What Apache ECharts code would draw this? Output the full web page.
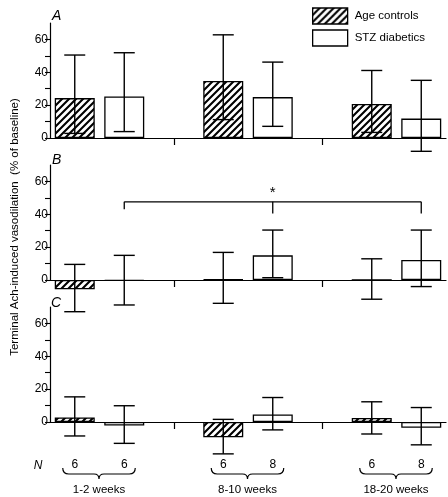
<!DOCTYPE html>
<html><head><meta charset="utf-8">
<script src="https://cdn.jsdelivr.net/npm/echarts@6/dist/echarts.min.js"></script>
<style>html,body{margin:0;padding:0;background:#fff}#c{width:448px;height:497px}</style>
</head><body><div id="c"></div>
<script>
// ---- data ----
const slots = ['c1','d1','g1','c2','d2','g2','c3','d3'];
const groupLabels = ['1-2 weeks','8-10 weeks','18-20 weeks'];
const nValues = ['6','6','','6','8','','6','8'];
const panelLetters = ['A','B','C'];
const ctrlMeanA = [24.3, 34.7, 20.7];
const ctrlLowA  = [2.8, 11.2, 3.4];
const ctrlHighA = [50.5, 62.8, 41.1];
const stzMeanA  = [25.3, 24.9, 11.8];
const stzLowA   = [3.9, 7.1, -8.1];
const stzHighA  = [51.9, 46.2, 35.1];
const ctrlMeanB = [-5.7, 0.3, 0];
const ctrlLowB  = [-19.3, -14.2, -11.7];
const ctrlHighB = [9.5, 16.8, 12.9];
const stzMeanB  = [-0.5, 15.0, 12.2];
const stzLowB   = [-15.2, 1.4, -4.0];
const stzHighB  = [15.0, 30.4, 30.4];
const ctrlMeanC = [2.8, -9.3, 2.4];
const ctrlLowC  = [-8.5, -19.4, -7.3];
const ctrlHighC = [15.3, 1.6, 12.3];
const stzMeanC  = [-2.2, 4.6, -3.5];
const stzLowC   = [-13.0, -4.8, -13.9];
const stzHighC  = [9.9, 14.9, 8.8];
const yTicks = [0,10,20,30,40,50,60];
const yLabels = [0,20,40,60];
const sigSlots = [1,4,7];
const sigLevel = 47.6;
const sigDrops = [43.0, 40.5, 40.5];
const sigStarLevel = 54;
const groupSlots = [[0,1],[3,4],[6,7]];

// ---- helpers ----
const FONT = '"Liberation Sans", Arial, sans-serif';
function makeHatch(){
  const s = 7;
  const c = document.createElement('canvas'); c.width = s; c.height = s;
  const g = c.getContext('2d');
  g.fillStyle = '#fff'; g.fillRect(0,0,s,s);
  g.strokeStyle = '#000'; g.lineWidth = 2.1;
  g.beginPath();
  for (const o of [-s, 0, s]) { g.moveTo(o - 1, s + 1); g.lineTo(o + s + 1, -1); }
  g.stroke();
  return c;
}
const hatch = {image: makeHatch(), repeat: 'repeat'};

const panels = [
  {cm: ctrlMeanA, cl: ctrlLowA, ch: ctrlHighA, sm: stzMeanA, sl: stzLowA, sh: stzHighA, top: 23},
  {cm: ctrlMeanB, cl: ctrlLowB, ch: ctrlHighB, sm: stzMeanB, sl: stzLowB, sh: stzHighB, top: 165},
  {cm: ctrlMeanC, cl: ctrlLowC, ch: ctrlHighC, sm: stzMeanC, sl: stzLowC, sh: stzHighC, top: 307}
];

function slotArray(vals, offset){
  const arr = slots.map(() => '-');
  vals.forEach((v, g) => { arr[3*g + offset] = v; });
  return arr;
}

function renderErr(params, api){
  const x = api.value(0), lo = api.value(1), hi = api.value(2);
  const p1 = api.coord([x, hi]), p2 = api.coord([x, lo]);
  const w = 10.5;
  const style = {stroke: '#000', lineWidth: 1.4, fill: null};
  return {type: 'group', children: [
    {type: 'line', shape: {x1: p1[0], y1: p1[1], x2: p2[0], y2: p2[1]}, style},
    {type: 'line', shape: {x1: p1[0]-w, y1: p1[1], x2: p1[0]+w, y2: p1[1]}, style},
    {type: 'line', shape: {x1: p2[0]-w, y1: p2[1], x2: p2[0]+w, y2: p2[1]}, style}
  ]};
}

function renderSig(params, api){
  const xs = [api.value(0), api.value(1), api.value(2)];
  const lvl = api.value(3);
  const drops = [api.value(4), api.value(5), api.value(6)];
  const star = api.value(7);
  const style = {stroke: '#000', lineWidth: 1.3, fill: null};
  const top0 = api.coord([xs[0], lvl]), top2 = api.coord([xs[2], lvl]);
  const children = [{type: 'line', shape: {x1: top0[0], y1: top0[1], x2: top2[0], y2: top2[1]}, style}];
  xs.forEach((x, i) => {
    const a = api.coord([x, lvl]), b = api.coord([x, drops[i]]);
    children.push({type: 'line', shape: {x1: a[0], y1: a[1], x2: b[0], y2: b[1]}, style});
  });
  const sp = api.coord([xs[1], star]);
  children.push({type: 'text', x: sp[0], y: sp[1] + 2, style: {text: '*', font: '15px ' + FONT, fill: '#000', align: 'center', verticalAlign: 'middle'}});
  return {type: 'group', children};
}

function renderBrace(params, api){
  const s = api.value(0), e = api.value(1), li = api.value(2);
  const p0 = api.coord([s, 0]), p1 = api.coord([e, 0]);
  const xs = p0[0] - 12, xe = p1[0] + 11, xm = (xs + xe) / 2;
  const y1 = p0[1] + 46, y2 = p0[1] + 52, y3 = p0[1] + 57;
  const d = `M${xs},${y1} Q${xs},${y2} ${xs+6},${y2} L${xm-5},${y2} Q${xm},${y2} ${xm},${y3} Q${xm},${y2} ${xm+5},${y2} L${xe-6},${y2} Q${xe},${y2} ${xe},${y1}`;
  return {type: 'group', children: [
    {type: 'path', shape: {pathData: d}, style: {stroke: '#000', lineWidth: 1.2, fill: null}},
    {type: 'text', x: xm, y: p0[1] + 68, style: {text: groupLabels[li], font: '11.5px ' + FONT, fill: '#000', align: 'center', verticalAlign: 'middle'}}
  ]};
}

const grid = [], xAxis = [], yAxis = [], series = [];
panels.forEach((p, i) => {
  grid.push({left: 50, right: 2, top: p.top, height: 115});
  xAxis.push({
    type: 'category', gridIndex: i, data: slots,
    axisLine: {lineStyle: {color: '#000', width: 1.2}},
    axisTick: {show: true, alignWithLabel: true, length: 7, interval: (idx) => idx === 2 || idx === 5, lineStyle: {color: '#000', width: 1.2}},
    axisLabel: i === 2 ? {show: true, interval: 0, margin: 37, fontSize: 12, color: '#000', fontFamily: FONT, formatter: (v, idx) => nValues[idx]} : {show: false},
    splitLine: {show: false}
  });
  yAxis.push({
    type: 'value', gridIndex: i, min: 0, max: 70,
    axisLine: {show: true, lineStyle: {color: '#000', width: 1.2}},
    axisTick: {show: true, customValues: yTicks, length: 5, lineStyle: {color: '#000', width: 1.1}},
    axisLabel: {customValues: yLabels, fontSize: 12, color: '#000', margin: 2, fontFamily: FONT},
    splitLine: {show: false}
  });
  series.push({
    type: 'bar', name: 'Age controls', xAxisIndex: i, yAxisIndex: i,
    data: slotArray(p.cm, 0), barWidth: 40, barGap: '-100%', clip: false,
    itemStyle: {color: hatch, borderColor: '#000', borderWidth: 1.3}, z: 2
  });
  series.push({
    type: 'bar', name: 'STZ diabetics', xAxisIndex: i, yAxisIndex: i,
    data: slotArray(p.sm, 1), barWidth: 40, barGap: '-100%', clip: false,
    itemStyle: {color: '#fff', borderColor: '#000', borderWidth: 1.3}, z: 2
  });
  const errData = [];
  p.cm.forEach((v, g) => { errData.push([3*g, p.cl[g], p.ch[g]]); errData.push([3*g+1, p.sl[g], p.sh[g]]); });
  series.push({
    type: 'custom', xAxisIndex: i, yAxisIndex: i, renderItem: renderErr,
    data: errData, encode: {x: 0, y: [1, 2]}, z: 5, clip: false, silent: true
  });
});
series.push({
  type: 'custom', xAxisIndex: 1, yAxisIndex: 1, renderItem: renderSig, clip: false, z: 5,
  data: [[sigSlots[0], sigSlots[1], sigSlots[2], sigLevel, sigDrops[0], sigDrops[1], sigDrops[2], sigStarLevel]],
  encode: {x: 0, y: 3}
});
series.push({
  type: 'custom', xAxisIndex: 2, yAxisIndex: 2, renderItem: renderBrace, clip: false, z: 5,
  data: groupSlots.map((g, k) => [g[0], g[1], k]),
  encode: {x: 0, y: 2}
});

const chart = echarts.init(document.getElementById('c'), null, {renderer: 'canvas'});
chart.setOption({
  animation: false,
  backgroundColor: '#fff',
  textStyle: {fontFamily: FONT},
  grid, xAxis, yAxis, series,
  legend: {
    data: ['Age controls', 'STZ diabetics'], orient: 'vertical', left: 307, top: -2,
    itemWidth: 35, itemHeight: 16, itemGap: -4, icon: 'rect', selectedMode: false,
    itemStyle: {borderColor: '#000', borderWidth: 1.3},
    textStyle: {fontSize: 11.5, color: '#000', fontFamily: FONT, padding: [12, 0, 0, 2], lineHeight: 14}
  },
  graphic: [
    {type: 'text', x: 52, y: 9, style: {text: panelLetters[0], font: 'italic 14px ' + FONT, fill: '#000'}},
    {type: 'text', x: 52, y: 153, style: {text: panelLetters[1], font: 'italic 14px ' + FONT, fill: '#000'}},
    {type: 'text', x: 51, y: 296, style: {text: panelLetters[2], font: 'italic 14px ' + FONT, fill: '#000'}},
    {type: 'text', x: 38, y: 466, style: {text: 'N', font: 'italic 12px ' + FONT, fill: '#000', align: 'center', verticalAlign: 'middle'}},
    {type: 'text', x: 15, y: 227, rotation: Math.PI / 2, style: {text: 'Terminal Ach-induced vasodilation  (% of baseline)', font: '11.5px ' + FONT, fill: '#000', align: 'center', verticalAlign: 'middle'}}
  ]
});
</script>
</body></html>
